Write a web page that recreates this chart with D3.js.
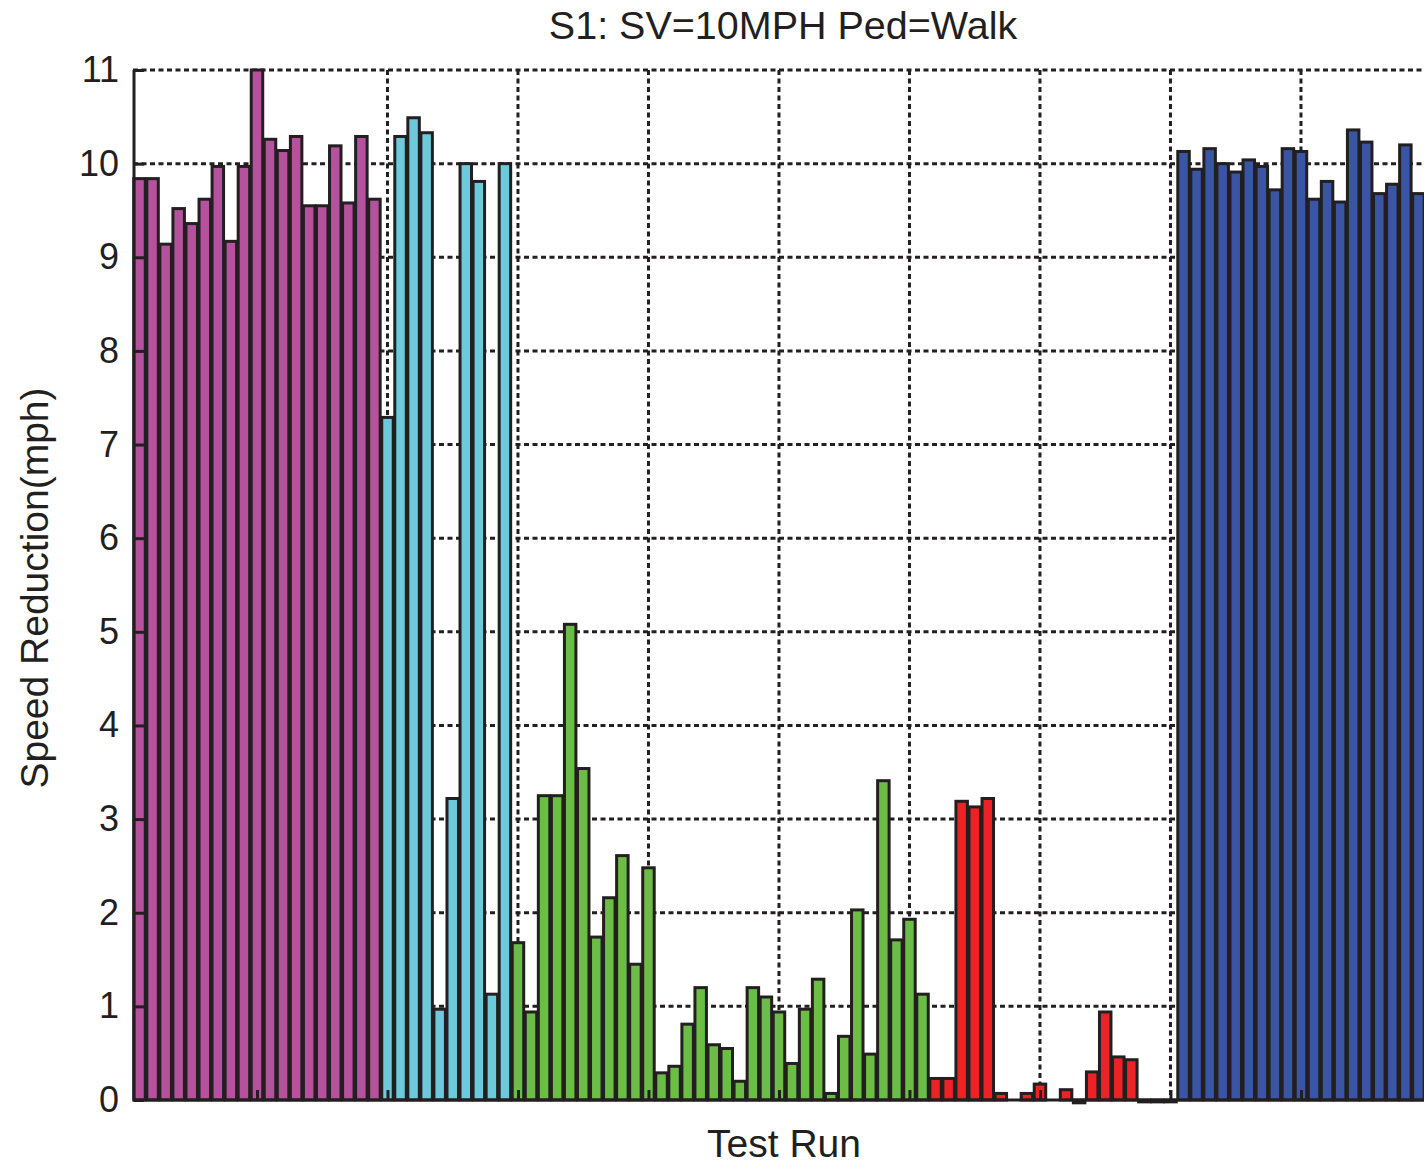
<!DOCTYPE html>
<html>
<head>
<meta charset="utf-8">
<script src="https://cdn.jsdelivr.net/npm/d3@7"></script>
<style>
  html, body { margin: 0; padding: 0; background: #fff; overflow: hidden; }
  svg { display: block; font-family: Arial, "Liberation Sans", Helvetica, sans-serif; }
</style>
</head>
<body>
<svg id="chart" width="1424" height="1165"></svg>
<script>
// Speed reduction per test run, grouped by configuration (runs numbered consecutively)
const purpleRuns = [9.84, 9.84, 9.14, 9.52, 9.36, 9.62, 9.97, 9.17, 9.97, 11.0,
                    10.26, 10.14, 10.29, 9.55, 9.55, 10.19, 9.58, 10.29, 9.62];
const cyanRuns   = [7.29, 10.29, 10.49, 10.33, 0.97, 3.22, 10.0, 9.81, 1.13, 10.0];
const greenRuns  = [1.68, 0.94, 3.25, 3.25, 5.08, 3.54, 1.74, 2.16, 2.61, 1.45,
                    2.48, 0.29, 0.36, 0.81, 1.20, 0.59, 0.55, 0.20, 1.20, 1.10,
                    0.94, 0.39, 0.97, 1.29, 0.07, 0.68, 2.03, 0.49, 3.41, 1.71,
                    1.93, 1.13];
const redRuns    = [0.23, 0.23, 3.19, 3.13, 3.22, 0.07, 0, 0.07, 0.17, 0,
                    0.11, -0.03, 0.30, 0.94, 0.46, 0.43, -0.02, -0.02, -0.02];
const blueRuns   = [10.13, 9.94, 10.16, 10.0, 9.91, 10.04, 9.97, 9.72, 10.16, 10.13,
                    9.62, 9.81, 9.59, 10.36, 10.23, 9.68, 9.78, 10.2, 9.68];

const groupColors = ["#b5519d", "#6dcadb", "#6bbd45", "#ec2227", "#3a55a4"];
const groups = [purpleRuns, cyanRuns, greenRuns, redRuns, blueRuns];

const yTicks = [0, 1, 2, 3, 4, 5, 6, 7, 8, 9, 10, 11];
const xGridTicks = [10, 20, 30, 40, 50, 60, 70, 80, 90, 100];

const titleText = "S1: SV=10MPH Ped=Walk";
const xLabel = "Test Run";
const yLabel = "Speed Reduction(mph)";

// Flatten into one run list with a running index
const runs = [];
let idx = 1;
groups.forEach((g, gi) => g.forEach(v => runs.push({ run: idx++, value: v, color: groupColors[gi] })));

const svg = d3.select("#chart");
const plotL = 133, plotR = 1438, plotT = 70, plotB = 1100;

const x = d3.scaleLinear().domain([0.5, 100.5]).range([plotL, plotR]);
const y = d3.scaleLinear().domain([0, 11]).range([plotB, plotT]);
const barW = (x(1) - x(0)) * 0.88;

const ink = "#231f20";

// grid
const grid = svg.append("g");
grid.selectAll("line.h").data(yTicks.filter(t => t > 0)).join("line")
  .attr("x1", plotL).attr("x2", plotR)
  .attr("y1", d => y(d)).attr("y2", d => y(d))
  .attr("stroke", ink).attr("stroke-width", 3).attr("stroke-dasharray", "5,3.5");
grid.selectAll("line.v").data(xGridTicks).join("line")
  .attr("x1", d => x(d)).attr("x2", d => x(d))
  .attr("y1", plotT).attr("y2", plotB)
  .attr("stroke", ink).attr("stroke-width", 3).attr("stroke-dasharray", "5,3.5");

// bars
svg.append("g").selectAll("rect").data(runs).join("rect")
  .attr("x", d => x(d.run) - barW / 2)
  .attr("width", barW)
  .attr("y", d => y(Math.max(0, d.value)))
  .attr("height", d => Math.abs(y(d.value) - y(0)))
  .attr("fill", d => d.color)
  .attr("stroke", ink).attr("stroke-width", 3);

// y axis
const yAxis = d3.axisLeft(y).tickValues(yTicks).tickSize(-10).tickPadding(15);
const ya = svg.append("g").attr("transform", `translate(${plotL + 1},0)`).call(yAxis);
ya.select(".domain").attr("stroke", ink).attr("stroke-width", 3).attr("d", `M0,${plotT}V${plotB}`);
ya.selectAll(".tick line").attr("stroke", ink).attr("stroke-width", 3);
ya.selectAll(".tick text").attr("font-size", 36).attr("fill", ink)
  .attr("font-family", "Arial, 'Liberation Sans', sans-serif");

// x axis (no tick labels)
const xAxis = d3.axisBottom(x).tickValues(xGridTicks).tickSize(-10).tickFormat("");
const xa = svg.append("g").attr("transform", `translate(0,${plotB})`).call(xAxis);
xa.select(".domain").attr("stroke", ink).attr("stroke-width", 3).attr("d", `M${plotL},0H${plotR}`);
xa.selectAll(".tick line").attr("stroke", ink).attr("stroke-width", 3);

// title and labels
svg.append("text").attr("x", 783).attr("y", 39)
  .attr("text-anchor", "middle").attr("font-size", 39.5).attr("fill", ink).text(titleText);
svg.append("text").attr("x", 784).attr("y", 1157)
  .attr("text-anchor", "middle").attr("font-size", 39).attr("fill", ink).text(xLabel);
svg.append("text").attr("transform", `translate(48,588) rotate(-90)`)
  .attr("text-anchor", "middle").attr("font-size", 39).attr("fill", ink).text(yLabel);
</script>
</body>
</html>
